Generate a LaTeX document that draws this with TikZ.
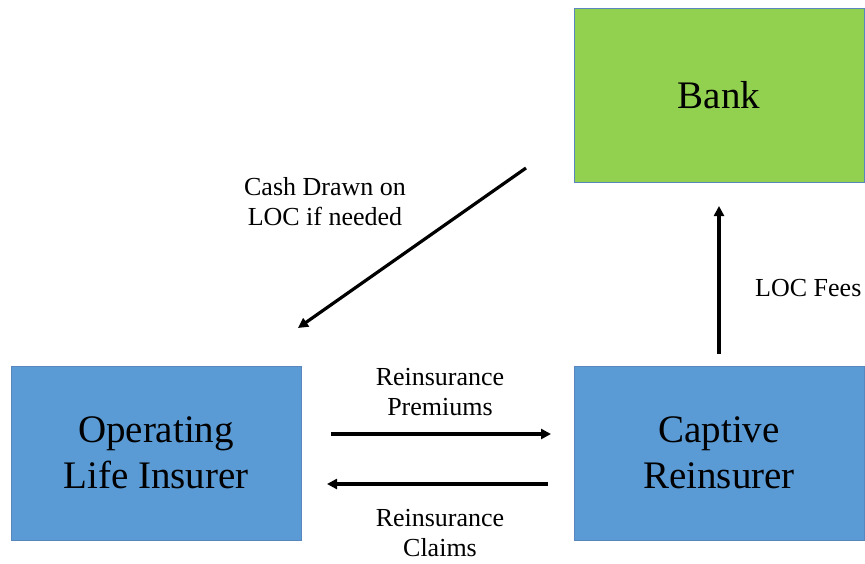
\documentclass[tikz,border=0pt]{standalone}
\usepackage{fontspec}
\setmainfont{Liberation Serif}
\usetikzlibrary{arrows.meta}
\definecolor{bankgreen}{HTML}{92D050}
\definecolor{boxblue}{HTML}{5B9BD5}
\definecolor{edgeblue}{HTML}{5A86BE}
\begin{document}
\begin{tikzpicture}[x=1pt,y=-1pt,
  entity/.style={draw=edgeblue,line width=0.9pt,minimum width=290pt,minimum height=174pt,inner sep=0pt,align=center,font=\fontsize{39}{46}\selectfont},
  flow/.style={line width=3.2pt,-{Triangle[length=10pt,width=10pt]}},
  lbl/.style={align=center,font=\fontsize{26}{30}\selectfont,inner sep=0pt}]
\useasboundingbox (0,0) rectangle (865,563);
\node[entity,fill=bankgreen] (bank) at (719,95.5) {\raisebox{-2pt}{Bank}};
\node[entity,fill=boxblue] (oli) at (156,453) {\raisebox{-2pt}{Operating}\\\raisebox{-2pt}{Life Insurer}};
\node[entity,fill=boxblue] (cap) at (719,453) {\raisebox{-2pt}{Captive}\\\raisebox{-2pt}{Reinsurer}};
\coordinate (c1) at (526,168);
\coordinate (c2) at (298,328);
\coordinate (p1) at (331,434);
\coordinate (p2) at (551,434);
\coordinate (q1) at (548,484);
\coordinate (q2) at (327,484);
\coordinate (f1) at (719,354);
\coordinate (f2) at (719,206);
\draw[flow] (c1) -- (c2);
\draw[flow] (p1) -- (p2);
\draw[flow] (q1) -- (q2);
\draw[flow] (f1) -- (f2);
\node[lbl] (lcash) at (325,202) {Cash Drawn on\\LOC if needed};
\node[lbl] (lprem) at (440,392) {Reinsurance\\Premiums};
\node[lbl] (lclaim) at (440,533) {Reinsurance\\Claims};
\node[lbl,anchor=west] (lfees) at (755,288) {LOC Fees};
\end{tikzpicture}
\end{document}
